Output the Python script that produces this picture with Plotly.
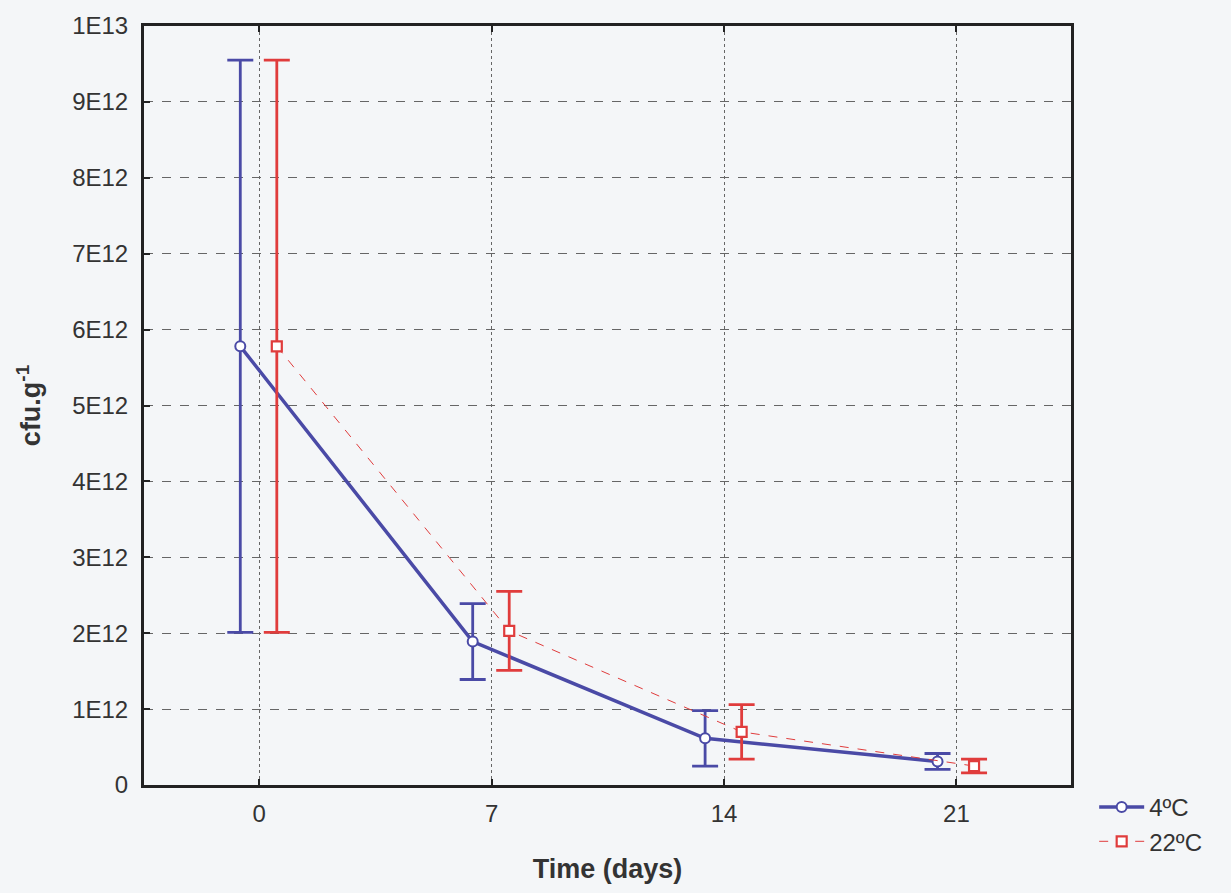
import plotly.graph_objects as go

# Sampling days and the count of colony-forming units per gram
days = [0, 7, 14, 21]

mean_4c = [5.78e12, 1.89e12, 0.615e12, 0.31e12]
err_4c = [3.77e12, 0.50e12, 0.365e12, 0.105e12]

mean_22c = [5.78e12, 2.03e12, 0.70e12, 0.25e12]
err_22c = [3.77e12, 0.52e12, 0.36e12, 0.09e12]

y_tick_vals = [i * 1e12 for i in range(11)]
y_tick_text = ["0", "1E12", "2E12", "3E12", "4E12", "5E12",
               "6E12", "7E12", "8E12", "9E12", "1E13"]

# Small horizontal dodge so the two series do not overlap
dodge_4c = -0.57
dodge_22c = 0.53

blue = "#4a4aa6"
red = "#e03c3c"
bg = "#f4f6f8"
font = "Liberation Sans, Arial, sans-serif"
text_color = "#333333"

fig = go.Figure()

fig.add_trace(go.Scatter(
    x=[d + dodge_4c for d in days], y=mean_4c,
    mode="lines+markers", name="4ºC",
    line=dict(color=blue, width=3.5),
    marker=dict(symbol="circle", size=10, color="white",
                line=dict(color=blue, width=2)),
    error_y=dict(type="data", array=err_4c, visible=True,
                 color=blue, thickness=2.8, width=13),
))

fig.add_trace(go.Scatter(
    x=[d + dodge_22c for d in days], y=mean_22c,
    mode="lines+markers", name="22ºC",
    line=dict(color=red, width=1, dash="dash"),
    marker=dict(symbol="square", size=10, color="white",
                line=dict(color=red, width=2.2)),
    error_y=dict(type="data", array=err_22c, visible=True,
                 color=red, thickness=2.8, width=13),
))

fig.update_layout(
    width=1231, height=893,
    margin=dict(l=144, r=160, t=23, b=108),
    paper_bgcolor=bg, plot_bgcolor=bg,
    font=dict(family=font, size=24, color=text_color),
    legend=dict(x=1.025, y=0.0, xanchor="left", yanchor="top",
                bgcolor="rgba(0,0,0,0)", itemwidth=45,
                font=dict(family=font, size=24, color=text_color)),
    showlegend=True,
)

fig.update_xaxes(
    range=[-3.47, 24.45],
    tickvals=days, ticktext=[str(d) for d in days],
    tickfont=dict(family=font, size=24, color=text_color),
    ticks="inside", ticklen=6, tickwidth=2, tickcolor="#222",
    showline=True, linecolor="#222", linewidth=3, mirror="ticks",
    showgrid=True, gridcolor="#666", gridwidth=1, griddash="dot",
    zeroline=False, ticklabelstandoff=5,
    title=dict(text="<b>Time (days)</b>",
               font=dict(family=font, size=27, color=text_color),
               standoff=34),
)

fig.update_yaxes(
    range=[0, 1e13],
    tickvals=y_tick_vals, ticktext=y_tick_text,
    tickfont=dict(family=font, size=24, color=text_color),
    ticks="inside", ticklen=6, tickwidth=2, tickcolor="#222",
    showline=True, linecolor="#222", linewidth=3, mirror=True,
    showgrid=True, gridcolor="#666", gridwidth=1, griddash="dash",
    zeroline=False, ticklabelstandoff=8,
    title=dict(text="<b>cfu.g<sup>-1</sup></b>",
               font=dict(family=font, size=27, color=text_color),
               standoff=24),
)

fig.write_html("out.html")
